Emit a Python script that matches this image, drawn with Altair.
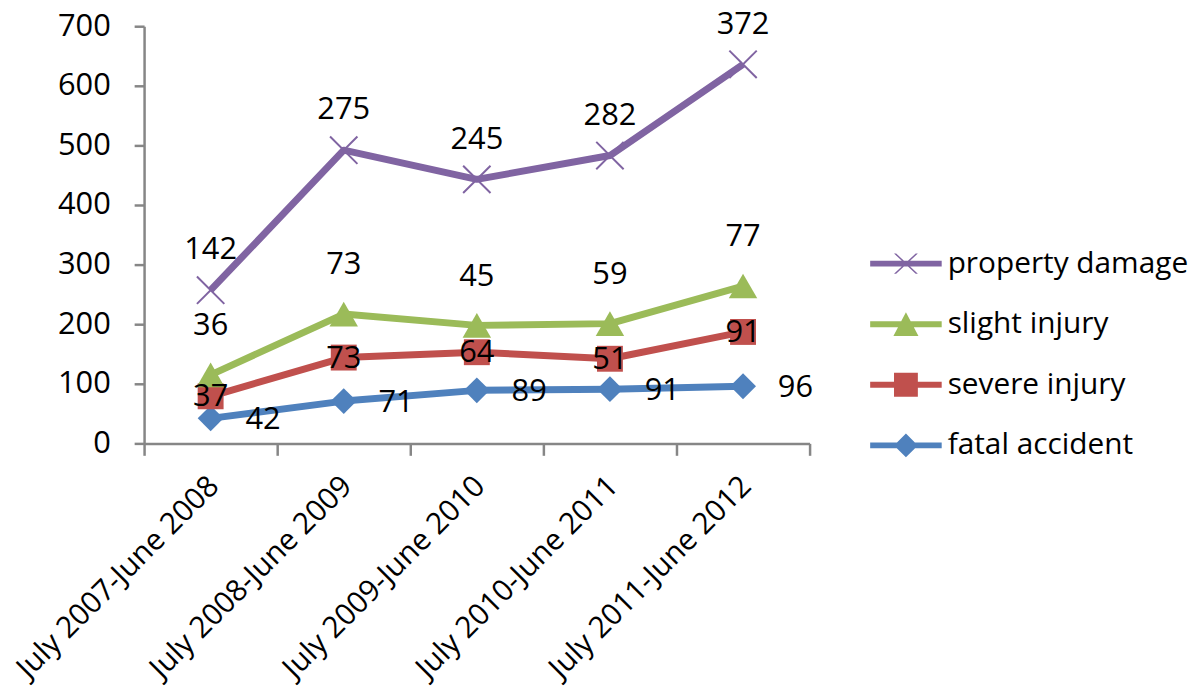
import altair as alt
import pandas as pd

periods = ["July 2007-June 2008", "July 2008-June 2009", "July 2009-June 2010",
           "July 2010-June 2011", "July 2011-June 2012"]
series_stack = ["fatal accident", "severe injury", "slight injury", "property damage"]
fatal = [42, 71, 89, 91, 96]
severe = [37, 73, 64, 51, 91]
slight = [36, 73, 45, 59, 77]
prop = [142, 275, 245, 282, 372]
legend_order = ["property damage", "slight injury", "severe injury", "fatal accident"]
legend_colors = ["#8064A2", "#9BBB59", "#C0504D", "#4F81BD"]
y_ticks = [0, 100, 200, 300, 400, 500, 600, 700]

FONT = "Open Sans"
FS = 31
GREY = "#868686"

rows = []
for k, (name, vals) in enumerate(zip(series_stack, [fatal, severe, slight, prop])):
    for i, (p, v) in enumerate(zip(periods, vals)):
        rows.append({"period": p, "series": name, "value": v, "order": k, "pidx": i})
df = pd.DataFrame(rows)

base = alt.Chart(df).transform_window(
    cum="sum(value)", frame=[None, 0], groupby=["period"], sort=[alt.SortField("order")]
)

x = alt.X("period:N", sort=periods,
          scale=alt.Scale(type="band", paddingInner=0, paddingOuter=0),
          axis=alt.Axis(title=None, labelAngle=-45, labelAlign="right", labelBaseline="middle",
                        labelFont=FONT, labelFontSize=30, labelColor="black", labelLimit=0,
                        labelOffset=3,
                        domainColor=GREY, domainWidth=2.5, tickColor=GREY, tickWidth=2.5,
                        tickSize=12, tickBand="extent", labelPadding=26, grid=False))
y = alt.Y("cum:Q", scale=alt.Scale(domain=[0, 700], nice=False, zero=True),
          axis=alt.Axis(values=y_ticks, title=None, labelFont=FONT, labelFontSize=FS,
                        labelColor="black", domainColor=GREY, domainWidth=2.5,
                        tickColor=GREY, tickWidth=2.5, tickSize=10, labelPadding=24, grid=False))
color_scale = alt.Scale(domain=legend_order, range=legend_colors)
color_nolegend = alt.Color("series:N", scale=color_scale, legend=None)

lines = base.mark_line(strokeWidth=7, strokeJoin="round").encode(
    x=x, y=y, color=color_nolegend, order=alt.Order("pidx:Q")
)

marker_specs = {
    "fatal accident": dict(shape="diamond", size=680, filled=True, strokeWidth=0),
    "severe injury": dict(shape="square", size=680, filled=True, strokeWidth=0),
    "slight injury": dict(shape="triangle-up", size=820, filled=True, strokeWidth=0),
    "property damage": dict(shape="M-1,-1L1,1M-1,1L1,-1", size=760, filled=False, strokeWidth=2),
}
marker_layers = []
for name in series_stack:
    spec = marker_specs[name]
    marker_layers.append(
        base.transform_filter(alt.datum.series == name).mark_point(
            shape=spec["shape"], size=spec["size"], filled=spec["filled"],
            strokeWidth=spec["strokeWidth"], opacity=1
        ).encode(x=x, y=y, color=color_nolegend)
    )

text_common = dict(font=FONT, fontSize=FS, color="black", baseline="middle")
labels_prop = base.transform_filter(alt.datum.series == "property damage").mark_text(
    dy=-40, align="center", **text_common).encode(x=x, y=y, text="value:Q")
labels_slight = base.transform_filter(alt.datum.series == "slight injury").mark_text(
    dy=-49, align="center", **text_common).encode(x=x, y=y, text="value:Q")
labels_center = base.transform_filter(alt.datum.series == "severe injury").mark_text(
    dy=1, align="center", **text_common).encode(x=x, y=y, text="value:Q")
labels_right = base.transform_filter(alt.datum.series == "fatal accident").mark_text(
    dx=35, dy=2, align="left", **text_common).encode(x=x, y=y, text="value:Q")

legend_paths = [
    "M-3,-0.25H3V0.25H-3Z M-1,-0.85L-0.82,-0.85L1,0.85L0.82,0.85Z M0.82,-0.85L1,-0.85L-0.82,0.85L-1,0.85Z",
    "M-3,-0.25H3V0.25H-3Z M-1.05,1L0,-1L1.05,1Z",
    "M-3,-0.25H3V0.25H-3Z M-1,-1H1V1H-1Z",
    "M-3,-0.25H3V0.25H-3Z M0,-1L1,0L0,1L-1,0Z",
]
leg = alt.Legend(title=None, orient="none", legendX=752, legendY=224,
                 labelFont=FONT, labelFontSize=30, labelColor="black", labelLimit=0,
                 symbolSize=576, symbolStrokeWidth=0, symbolOpacity=1,
                 rowPadding=31, labelOffset=27, symbolOffset=0, padding=0)
legend_layer = base.transform_filter("false").mark_point(filled=True, opacity=1, strokeWidth=0).encode(
    x=x, y=y,
    color=alt.Color("series:N", scale=color_scale, legend=leg),
    shape=alt.Shape("series:N", scale=alt.Scale(domain=legend_order, range=legend_paths), legend=leg),
)

chart = alt.layer(legend_layer, lines, *marker_layers, labels_prop, labels_slight,
                  labels_center, labels_right).properties(
    width=670, height=420,
    autosize=alt.AutoSizeParams(type="none"),
    padding={"left": 137, "top": 16, "right": 385, "bottom": 255},
).configure_view(stroke=None)

chart.save("out.html", embed_options={"renderer": "svg", "actions": False})
